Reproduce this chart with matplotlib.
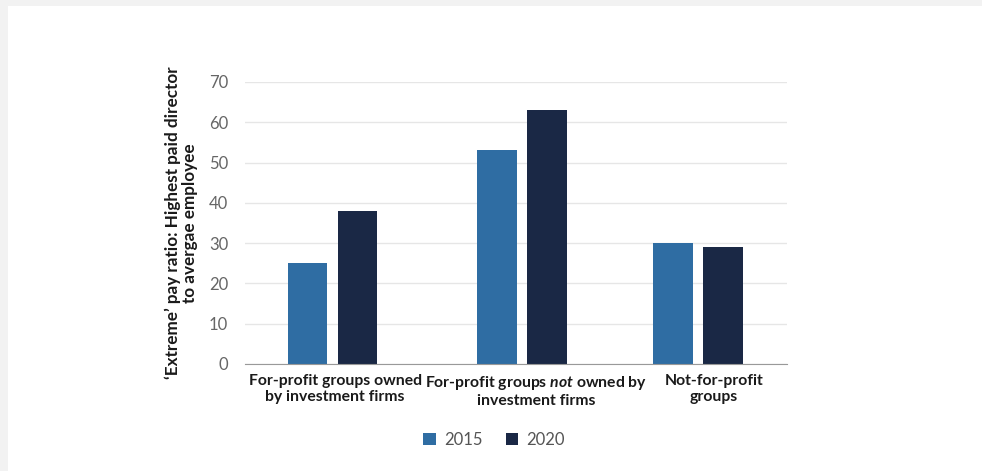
import numpy as np
import matplotlib.pyplot as plt
from matplotlib.patches import Rectangle

plt.rcParams['font.family'] = ['Lato', 'DejaVu Sans']
plt.rcParams['mathtext.fontset'] = 'custom'
plt.rcParams['mathtext.rm'] = 'Lato:bold'
plt.rcParams['mathtext.it'] = 'Lato:italic:bold'

# данi
categories = ["For-profit groups owned\nby investment firms",
              "For-profit groups $\\mathit{not}$ owned by\ninvestment firms",
              "Not-for-profit\ngroups"]
years = ["2015", "2020"]
vals_2015 = [25, 53, 30]
vals_2020 = [38, 63, 29]

# розташування груп (не рiвномiрне, як на оригiналi)
group_x = np.array([0, 1.037, 2.0])
label_x = np.array([0.014, 1.114, 2.088])
w = 0.216
off = 0.137

fig = plt.figure(figsize=(9.82, 4.71), dpi=100)
fig.patch.set_facecolor('#f2f2f2')
fig.add_artist(Rectangle((8 / 982, 0), 1, 1 - 6 / 471, transform=fig.transFigure,
                         facecolor='white', edgecolor='none', zorder=-10))

ax = fig.add_axes([245 / 982, 1 - 364 / 471, 542 / 982, 282 / 471])
ax.set_facecolor('white')
ax.bar(group_x - off, vals_2015, w, color='#2f6da3', label=years[0], zorder=3)
ax.bar(group_x + off, vals_2020, w, color='#1a2845', label=years[1], zorder=3)

ax.set_xlim(-0.479, 2.487)
ax.set_ylim(0, 70)
ax.set_yticks(range(0, 71, 10))
ax.set_xticks(label_x)
ax.set_xticklabels(categories, fontsize=11.3, fontweight='bold', color='#1a1a1a',
                   linespacing=1.25)
ax.tick_params(axis='x', length=0, pad=7)
ax.tick_params(axis='y', length=0, pad=12, labelsize=12, labelcolor='#666666')
ax.grid(axis='y', color='#e6e6e6', linewidth=1, zorder=0)
for s in ['top', 'right', 'left']:
    ax.spines[s].set_visible(False)
ax.spines['bottom'].set_color('#999999')
ax.spines['bottom'].set_zorder(4)

ax.set_ylabel("‘Extreme’ pay ratio: Highest paid director\nto avergae employee",
              fontsize=12.3, fontweight='bold', color='#1a1a1a', linespacing=1.1,
              labelpad=8)

leg = fig.legend(loc='center', bbox_to_anchor=(494 / 982, 1 - 440 / 471), ncol=2,
                 frameon=False, fontsize=12, handlelength=0.75, handleheight=0.75,
                 handletextpad=0.5, columnspacing=1.4)
for t in leg.get_texts():
    t.set_color('#555555')

plt.savefig('out.png', dpi=100, facecolor=fig.get_facecolor())
